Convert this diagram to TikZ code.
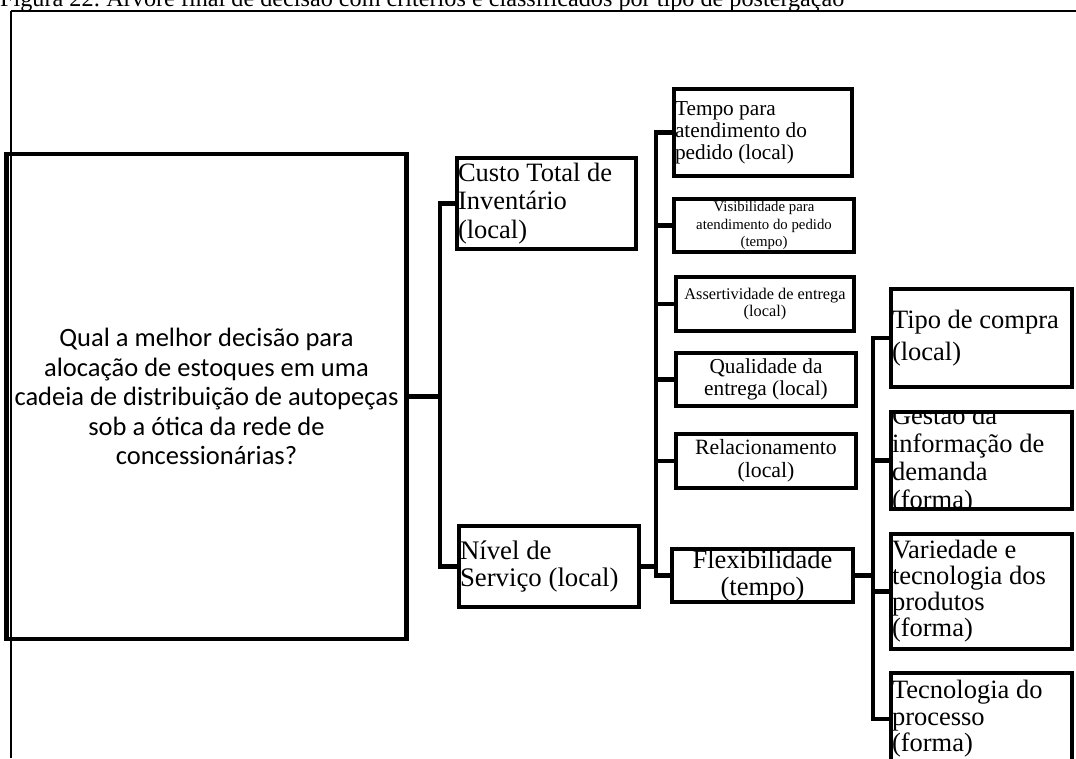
\documentclass[tikz,border=0pt]{standalone}
\usepackage{fontspec}
\setmainfont{Liberation Serif}
\newfontfamily\carlito{Carlito}
\begin{document}
\begin{tikzpicture}[x=1pt,y=-1pt,
  every node/.append style={execute at begin node={\spaceskip=\fontdimen2\font\xspaceskip=\fontdimen2\font}},
  box/.style={draw, line width=4.5pt, inner sep=0pt},
  conn/.style={line width=4.5pt},
  txt/.style={inner sep=0pt},
  big/.style={font=\fontsize{26.5}{#1}\selectfont}]
\useasboundingbox (0,0) rectangle (1076,758);

% caption and frame
\node[txt, anchor=base west, font=\fontsize{24.2}{26}\selectfont] (title) at (0,6.5)
  {Figura 22: Árvore final de decisão com critérios e classificados por tipo de postergação};
\draw[line width=1.2pt] (1076,11) -- (10.5,11);
\draw[line width=2pt] (10.5,11) -- (10.5,758);

% goal
\node[box, minimum width=389pt, minimum height=485pt, text width=400pt, align=center,
  font=\carlito\fontsize{26.5}{29.5}\selectfont] (root) at (206.5,396.5)
  {Qual a melhor decisão para\\alocação de estoques em uma\\cadeia de distribuição de autopeças\\sob a ótica da rede de\\concessionárias?};

% criteria
\node[box, minimum width=179pt, minimum height=91pt, text width=177pt, align=left, big=28.5] (custo) at (546.5,203.5)
  {Custo Total de\\Inventário\\(local)};
\node[box, minimum width=180pt, minimum height=81pt, text width=178pt, align=left,
  font=\fontsize{26.8}{27}\selectfont] (nivel) at (549,566.5)
  {Nível de\\Serviço (local)};

% sub-criteria of service level
\node[box, minimum width=178pt, minimum height=87pt, text width=176pt, align=left,
  font=\fontsize{21.3}{22}\selectfont] (tempo) at (763,132.5)
  {Tempo para\\atendimento do\\pedido (local)};
\node[box, minimum width=180pt, minimum height=53pt, text width=176pt, align=center,
  font=\fontsize{14.8}{17.5}\selectfont] (visi) at (764,225.5)
  {Visibilidade para\\atendimento do pedido\\(tempo)};
\node[box, minimum width=178pt, minimum height=54pt, text width=176pt, align=center,
  font=\fontsize{16.3}{16.5}\selectfont] (assert) at (765,304)
  {Assertividade de entrega\\(local)};
\node[box, minimum width=180pt, minimum height=53pt, text width=176pt, align=center,
  font=\fontsize{21.3}{22}\selectfont] (qual) at (766,379.5)
  {Qualidade da\\entrega (local)};
\node[box, minimum width=180pt, minimum height=54pt, text width=176pt, align=center,
  font=\fontsize{21.8}{22.5}\selectfont] (rel) at (766,461)
  {Relacionamento\\(local)};
\begin{scope}
  \clip (672,549) rectangle (853,602);
  \node[txt, text width=176pt, align=center, font=\fontsize{26.5}{26.5}\selectfont] (flex-t) at (762.5,575.5)
    {Flexibilidade\\(tempo)};
\end{scope}
\node[box, minimum width=181pt, minimum height=53pt] (flex) at (762.5,575.5) {};

% sub-criteria of flexibility
\node[box, minimum width=181pt, minimum height=98pt, text width=179pt, align=left, big=32] (tipo) at (981.5,338)
  {Tipo de compra\\(local)};
\begin{scope}
  \clip (891,412) rectangle (1072,509);
  \node[txt, text width=179pt, align=left, big=28] (gestao-t) at (981.5,460.5)
    {Gestão da\\informação de\\demanda\\(forma)};
\end{scope}
\node[box, minimum width=181pt, minimum height=97pt] (gestao) at (981.5,460.5) {};
\node[box, minimum width=181pt, minimum height=115pt, text width=179pt, align=left, big=26] (varied) at (981.5,591.5)
  {Variedade e\\tecnologia dos\\produtos\\(forma)};
\node[box, minimum width=181pt, minimum height=92pt, text width=179pt, align=left, big=26.5] (tec) at (981.5,719)
  {Tecnologia do\\processo\\(forma)};

% connectors
\coordinate (b1) at (440,0);
\coordinate (b2) at (656,0);
\coordinate (b3) at (873,0);
\draw[conn] (root.east) -- (root.east -| b1);
\draw[conn] (custo.west) -| (b1 |- nivel.west) -- (nivel.west);
\draw[conn] (nivel.east) -- (nivel.east -| b2);
\draw[conn] (tempo.west) -| (b2 |- flex.west) -- (flex.west);
\foreach \n in {visi,assert,qual,rel}
  \draw[conn] (\n.west) -- (\n.west -| b2);
\draw[conn] (flex.east) -- (flex.east -| b3);
\draw[conn] (tipo.west) -| (b3 |- tec.west) -- (tec.west);
\foreach \n in {gestao,varied}
  \draw[conn] (\n.west) -- (\n.west -| b3);
\end{tikzpicture}
\end{document}
